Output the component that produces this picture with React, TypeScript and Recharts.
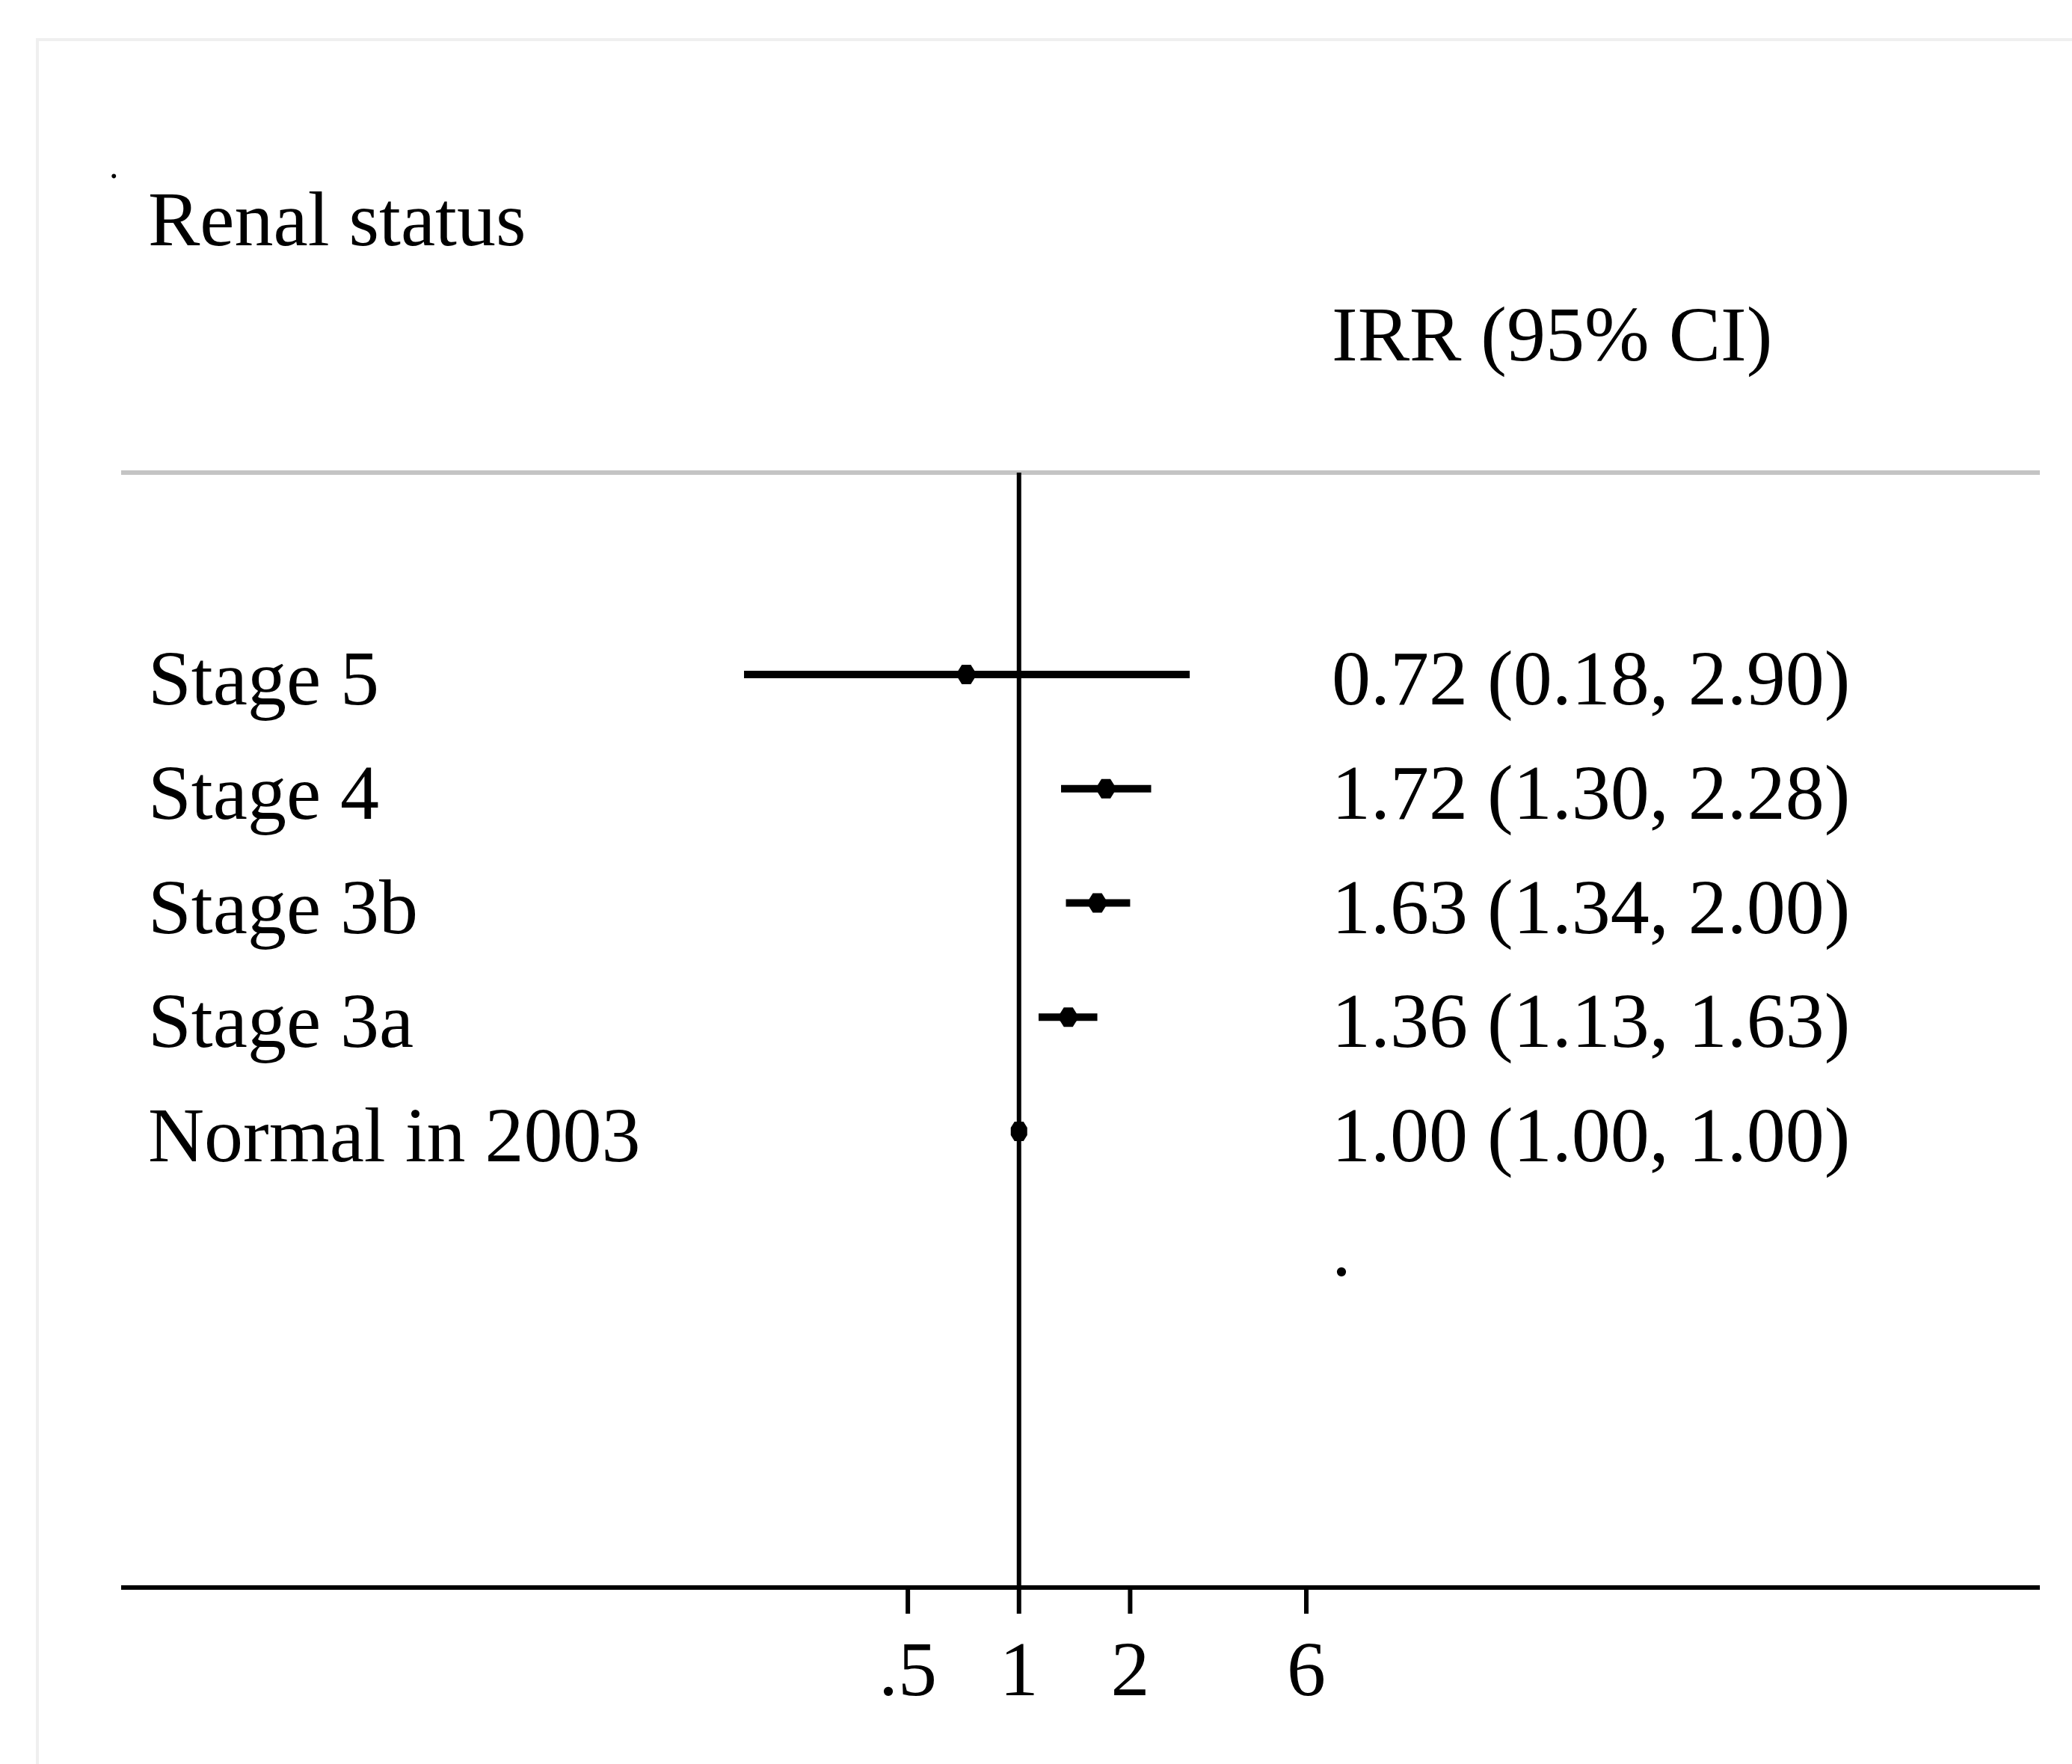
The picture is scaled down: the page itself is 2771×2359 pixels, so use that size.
import {
  ErrorBar,
  ReferenceLine,
  Scatter,
  ScatterChart,
  XAxis,
  YAxis,
} from "recharts";

const rowLabels = ["Stage 5", "Stage 4", "Stage 3b", "Stage 3a", "Normal in 2003", ""];
const irr = [0.72, 1.72, 1.63, 1.36, 1.0];
const ciLow = [0.18, 1.3, 1.34, 1.13, 1.0];
const ciHigh = [2.9, 2.28, 2.0, 1.63, 1.0];
const xTicks = [0.5, 1, 2, 6];
const rowTicks = [1, 2, 3, 4, 5, 6];

const SERIF = "'Liberation Serif', 'Times New Roman', serif";
const FONT = 104;

const W = 2771;
const H = 2359;

const X_DOMAIN: [number, number] = [0.0037, 582];
const Y_DOMAIN: [number, number] = [-0.7676, 8.993];

const fmt = (v: number) => v.toFixed(2);

const rightText = irr
  .map((v, i) => `${fmt(v)} (${fmt(ciLow[i])}, ${fmt(ciHigh[i])})`)
  .concat(["."]);

const points = irr.map((v, i) => ({
  x: v,
  row: i + 1,
  err: [v - ciLow[i], ciHigh[i] - v],
}));

function RowTick(props: any) {
  const { y, payload } = props;
  const i = payload.value - 1;
  return (
    <g>
      <text x={198} y={y + 40} fontFamily={SERIF} fontSize={FONT} fill="#000">
        {rowLabels[i]}
      </text>
      <text x={1781} y={y + 40} fontFamily={SERIF} fontSize={FONT} fill="#000">
        {rightText[i]}
      </text>
    </g>
  );
}

function XTick(props: any) {
  const { x, y, payload } = props;
  const v = payload.value;
  return (
    <text
      x={x}
      y={y + 109}
      textAnchor="middle"
      fontFamily={SERIF}
      fontSize={FONT}
      fill="#000"
    >
      {v === 0.5 ? ".5" : String(v)}
    </text>
  );
}

function Marker(props: any) {
  const { cx, cy } = props;
  if (cx == null || cy == null) return null;
  const pts = [
    [cx - 11, cy - 5],
    [cx - 6, cy - 13],
    [cx + 6, cy - 13],
    [cx + 11, cy - 5],
    [cx + 11, cy + 5],
    [cx + 6, cy + 13],
    [cx - 6, cy + 13],
    [cx - 11, cy + 5],
  ]
    .map((p) => p.join(","))
    .join(" ");
  return <polygon points={pts} fill="#000" />;
}

export default function App() {
  return (
    <div
      style={{
        position: "absolute",
        left: 0,
        top: 0,
        width: W,
        height: H,
        background: "#fff",
        overflow: "hidden",
      }}
    >
      {/* faint page frame */}
      <div
        style={{
          position: "absolute",
          left: 48,
          top: 51,
          width: W,
          height: H,
          borderTop: "4px solid #efefef",
          borderLeft: "4px solid #efefef",
        }}
      />
      <svg
        width={W}
        height={H}
        style={{ position: "absolute", left: 0, top: 0 }}
      >
        <text x={146} y={238} fontFamily={SERIF} fontSize={50} fill="#000">
          .
        </text>
        <text x={198} y={328} fontFamily={SERIF} fontSize={FONT} fill="#000">
          Renal status
        </text>
        <text x={1781} y={482} fontFamily={SERIF} fontSize={FONT} fill="#000">
          IRR (95% CI)
        </text>
      </svg>
      <div style={{ position: "absolute", left: 0, top: 0 }}>
        <ScatterChart
          width={W}
          height={H}
          margin={{ top: 632, right: 43, bottom: 36, left: 0 }}
        >
          <XAxis
            dataKey="x"
            type="number"
            scale="log"
            domain={X_DOMAIN}
            allowDataOverflow
            ticks={xTicks}
            interval={0}
            height={200}
            tickSize={35}
            tickMargin={0}
            tick={<XTick />}
            tickLine={{ stroke: "#000", strokeWidth: 6 }}
            axisLine={{ stroke: "#000", strokeWidth: 6 }}
          />
          <YAxis
            dataKey="row"
            type="number"
            domain={Y_DOMAIN}
            allowDataOverflow
            reversed
            ticks={rowTicks}
            interval={0}
            width={162}
            axisLine={false}
            tickLine={false}
            tick={<RowTick />}
          />
          <ReferenceLine
            y={Y_DOMAIN[0]}
            stroke="#c4c4c4"
            strokeWidth={6}
            ifOverflow="extendDomain"
          />
          <ReferenceLine x={1} stroke="#000" strokeWidth={6} />
          <Scatter
            data={points}
            shape={<Marker />}
            isAnimationActive={false}
          >
            <ErrorBar
              dataKey="err"
              direction="x"
              width={0}
              stroke="#000"
              strokeWidth={10}
              isAnimationActive={false}
            />
          </Scatter>
        </ScatterChart>
      </div>
    </div>
  );
}
